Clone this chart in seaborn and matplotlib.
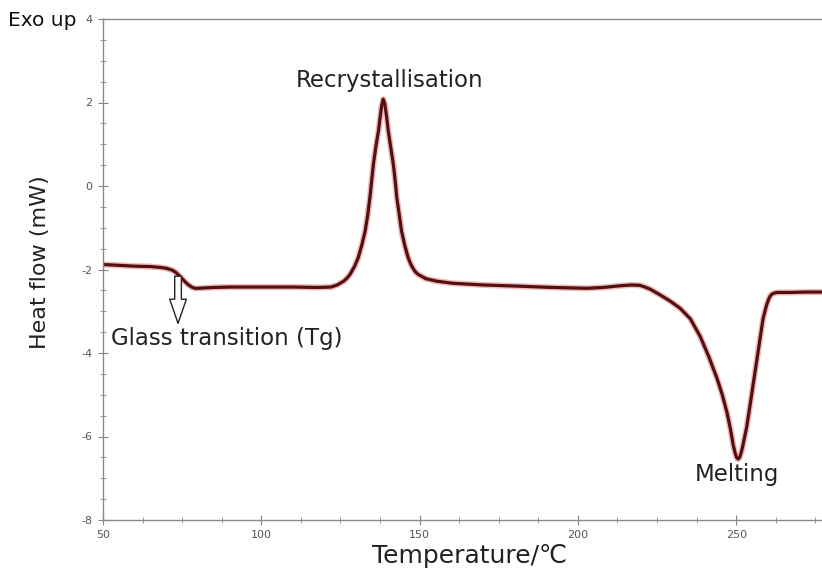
import matplotlib
matplotlib.use("Agg")
import matplotlib.pyplot as plt
from matplotlib.ticker import MultipleLocator
import seaborn as sns
import pandas as pd

# DSC trace: temperature (°C) and heat flow (mW)
temperature = [50, 55, 60, 65, 68, 70, 72, 73, 74, 75, 76, 77, 78, 79, 80,
               85, 90, 100, 110, 118, 122, 124, 126, 127, 128, 129.5, 130.6,
               131.8, 132.8, 133.6, 134.3, 135.4, 136.2, 137, 137.5, 138.0,
               138.5, 139.0, 139.6, 140.1, 140.9, 141.7, 142.3, 142.8, 143.6,
               144.3, 145.3, 146.4, 147.2, 147.9, 148.7, 149.6, 152, 155.4,
               160.5, 170, 181.7, 192, 202.9, 208, 213.3, 217, 219.6, 221.2,
               222.8, 224.4, 226, 229, 232.3, 235.5, 238.6, 241.3, 243.9,
               245.6, 247.1, 248.2, 249, 249.6, 250.1, 250.6, 251.1, 251.6,
               252.1, 253.3, 254.4, 255.5, 256.6, 257.6, 258.5, 259.6, 260.2,
               260.7, 261.3, 261.8, 262.9, 267, 272, 277]
heat_flow = [-1.88, -1.90, -1.92, -1.93, -1.95, -1.97, -2.02, -2.07, -2.14,
             -2.22, -2.30, -2.37, -2.42, -2.45, -2.45, -2.43, -2.42, -2.42,
             -2.42, -2.43, -2.42, -2.37, -2.28, -2.21, -2.12, -1.92, -1.72,
             -1.40, -1.08, -0.70, -0.28, 0.52, 0.95, 1.32, 1.62, 1.92,
             2.08, 1.97, 1.65, 1.32, 0.92, 0.52, 0.12, -0.28, -0.70,
             -1.08, -1.42, -1.72, -1.87, -1.97, -2.06, -2.12, -2.22, -2.28,
             -2.33, -2.37, -2.40, -2.43, -2.45, -2.43, -2.39, -2.37, -2.38,
             -2.42, -2.47, -2.54, -2.61, -2.75, -2.93, -3.18, -3.60, -4.08,
             -4.60, -5.00, -5.43, -5.83, -6.18, -6.38, -6.50, -6.54, -6.50,
             -6.38, -6.22, -5.78, -5.24, -4.68, -4.13, -3.62, -3.17, -2.85,
             -2.72, -2.64, -2.59, -2.57, -2.55, -2.55, -2.54, -2.54]

x_ticks = [50, 100, 150, 200, 250]
y_ticks = [-8, -6, -4, -2, 0, 2, 4]

# Annotated events: (label, x, y)
event_labels = ["Recrystallisation", "Glass transition (Tg)", "Melting"]
event_x = [140.6, 89.2, 250.3]
event_y = [2.52, -3.65, -6.92]
tg_arrow_x = 73.7
tg_arrow_from = -2.16
tg_arrow_to = -3.29

df = pd.DataFrame({"Temperature": temperature, "Heat flow": heat_flow})

sns.set_theme(style="white")
plt.rcParams["font.family"] = ["DejaVu Sans"]
plt.rcParams["axes.unicode_minus"] = False

fig = plt.figure(figsize=(8.22, 5.73), dpi=100)
ax = fig.add_axes([103 / 822, 1 - 520 / 573, 1 - 103 / 822, 501 / 573])

# soft red halo under the dark trace
sns.lineplot(data=df, x="Temperature", y="Heat flow", ax=ax, sort=False,
             color="#e06666", lw=4.4, alpha=0.45)
sns.lineplot(data=df, x="Temperature", y="Heat flow", ax=ax, sort=False,
             color="#521010", lw=2.3)

ax.set_xlim(50, 277.1)
ax.set_ylim(-8, 4)
ax.set_xticks(x_ticks)
ax.set_yticks(y_ticks)
ax.xaxis.set_minor_locator(MultipleLocator(12.5))
ax.yaxis.set_minor_locator(MultipleLocator(0.5))
ax.tick_params(axis="both", which="major", direction="inout", length=7,
               width=0.8, color="#888888", labelsize=8, labelcolor="#555555",
               pad=4, left=True, bottom=True)
ax.tick_params(axis="both", which="minor", direction="inout", length=4,
               width=0.7, color="#999999", left=True, bottom=True)

for side in ["left", "bottom", "top"]:
    ax.spines[side].set_color("#8a8a8a")
    ax.spines[side].set_linewidth(1.0)
ax.spines["right"].set_visible(False)

ax.set_xlabel("Temperature/℃", fontsize=18, color="#222222")
ax.set_ylabel("Heat flow (mW)", fontsize=16, color="#222222")
ax.xaxis.set_label_coords((470 - 103) / 719, -(556 - 520) / 501)
ax.yaxis.set_label_coords(-(103 - 40) / 719, (520 - 262) / 501)
ax.xaxis.label.set_va("center")
ax.yaxis.label.set_va("center")

for label, xv, yv in zip(event_labels, event_x, event_y):
    ax.text(xv, yv, label, fontsize=16.5, color="#222222",
            ha="center", va="center")

ax.annotate("", xy=(tg_arrow_x, tg_arrow_to), xytext=(tg_arrow_x, tg_arrow_from),
            arrowprops=dict(arrowstyle="simple,head_length=1.45,head_width=1.0,tail_width=0.4",
                            fc="white", ec="#222222", lw=1.0, mutation_scale=12,
                            shrinkA=0, shrinkB=0))

fig.text(8 / 822, 1 - 26 / 573, "Exo up", fontsize=14.5, color="#111111",
         ha="left", va="baseline")

fig.savefig("out.png", dpi=100)
